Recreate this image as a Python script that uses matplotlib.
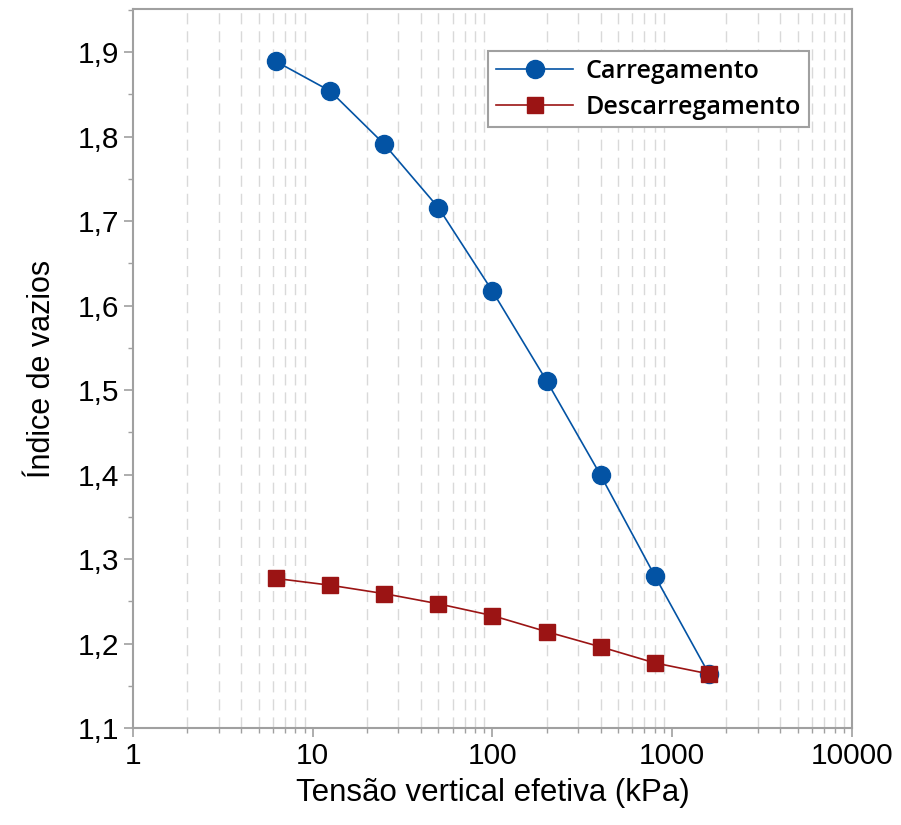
import matplotlib
matplotlib.use("Agg")
import matplotlib.pyplot as plt
from matplotlib.ticker import FuncFormatter, LogLocator, MultipleLocator, NullFormatter

tensao = [6.25, 12.5, 25, 50, 100, 200, 400, 800, 1600]
e_carga = [1.889, 1.854, 1.791, 1.716, 1.617, 1.511, 1.399, 1.280, 1.164]
e_descarga = [1.277, 1.269, 1.259, 1.247, 1.233, 1.214, 1.196, 1.177, 1.164]

azul = "#0353a4"
vermelho = "#9b1414"
cinza = "#a0a0a0"

plt.rcParams['font.family'] = ['Liberation Sans', 'DejaVu Sans']

fig = plt.figure(figsize=(9.01, 8.25), dpi=100)
ax = fig.add_axes([0.1476, 0.1176, 0.7980, 0.8714])

ax.plot(tensao, e_carga, '-o', color=azul, lw=1.2, ms=13, label="Carregamento", zorder=3)
ax.plot(tensao, e_descarga, '-s', color=vermelho, lw=1.2, ms=11.5, label="Descarregamento", zorder=4)

ax.set_xscale('log')
ax.set_xlim(1, 10000)
ax.set_ylim(1.1, 1.951)

ax.xaxis.set_major_locator(LogLocator(base=10))
ax.xaxis.set_minor_locator(LogLocator(base=10, subs=range(2, 10)))
ax.xaxis.set_minor_formatter(NullFormatter())
ax.xaxis.set_major_formatter(FuncFormatter(lambda v, p: "%d" % v))
ax.yaxis.set_major_locator(MultipleLocator(0.1))
ax.yaxis.set_minor_locator(MultipleLocator(0.05))
ax.yaxis.set_major_formatter(FuncFormatter(lambda v, p: ("%.1f" % v).replace('.', ',')))

# grade so nas subdivisoes do eixo log
ax.grid(which='minor', axis='x', color='#d9d9d9', lw=1, ls=(0, (8, 5)))
ax.set_axisbelow(True)

for s in ax.spines.values():
    s.set_color(cinza)
    s.set_linewidth(1.5)

ax.tick_params(which='major', direction='out', length=6.5, width=1.2, color=cinza,
               labelsize=21.5, pad=3.5)
ax.tick_params(which='minor', direction='out', length=3.5, width=1, color=cinza)

ax.set_xlabel("Tensão vertical efetiva (kPa)", fontsize=22.5, labelpad=6)
ax.set_ylabel("Índice de vazios", fontsize=22, labelpad=15)

leg = ax.legend(loc='upper right', bbox_to_anchor=(0.940, 0.9416),
                prop={'family': ['Open Sans', 'DejaVu Sans'], 'weight': 'semibold', 'size': 18},
                frameon=True, fancybox=False, edgecolor=cinza, framealpha=1,
                handlelength=3.1, handletextpad=0.5, borderpad=0.3,
                labelspacing=0.45, borderaxespad=0)
leg.get_frame().set_linewidth(1.5)

fig.savefig("out.png", dpi=100)
